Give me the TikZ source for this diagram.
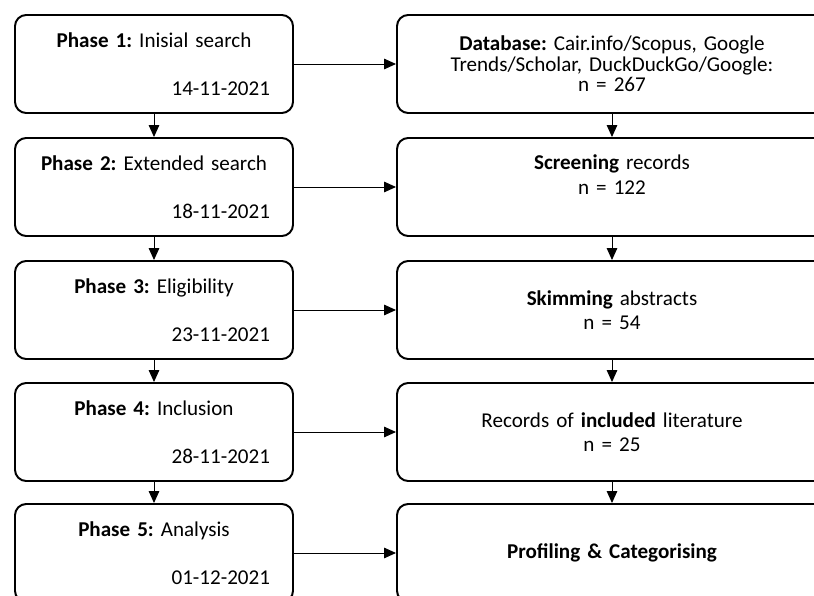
\documentclass[tikz,border=0pt]{standalone}
\usepackage{fontspec}
\setmainfont{Carlito}
\usetikzlibrary{positioning,arrows.meta}
\setlength{\parindent}{0pt}
\frenchspacing

\begin{document}
\begin{tikzpicture}[
    phase/.style={draw, line width=1.4pt, rounded corners=0.28cm, minimum width=6.95cm, minimum height=2.45cm, text width=5.8cm, inner sep=0pt, font=\fontsize{15}{17}\selectfont},
    result/.style={draw, line width=1.4pt, rounded corners=0.28cm, minimum width=10.75cm, minimum height=2.45cm, text width=10.2cm, align=center, inner sep=0pt, font=\fontsize{15}{17.5}\selectfont},
    flow/.style={-{Triangle[length=8.5pt,width=7.5pt]}, line width=0.7pt}]
    \useasboundingbox (0,0) rectangle (20.35,-14.9);
    % left column: phases
    \node[phase] (p1) at (3.85,-1.6) {{\centering\textbf{Phase 1:} Inisial search\par}\vspace{0.6cm}{\raggedleft 14-11-2021\par}};
    \node[phase] (p2) at (3.85,-4.675) {{\centering\textbf{Phase 2:} Extended search\par}\vspace{0.6cm}{\raggedleft 18-11-2021\par}};
    \node[phase] (p3) at (3.85,-7.75) {{\centering\textbf{Phase 3:} Eligibility\par}\vspace{0.6cm}{\raggedleft 23-11-2021\par}};
    \node[phase] (p4) at (3.85,-10.8) {{\centering\textbf{Phase 4:} Inclusion\par}\vspace{0.6cm}{\raggedleft 28-11-2021\par}};
    \node[phase] (p5) at (3.85,-13.825) {{\centering\textbf{Phase 5:} Analysis\par}\vspace{0.6cm}{\raggedleft 01-12-2021\par}};
    % right column: records
    \node[result, font=\fontsize{15}{14.5}\selectfont] (r1) at (15.3,-1.6) {\textbf{Database:} Cair.info/Scopus, Google\\Trends/Scholar, DuckDuckGo/Google:\\n = 267};
    \node[result] (r2) at (15.3,-4.675) {\textbf{Screening} records\\n = 122\\\mbox{}};
    \node[result] (r3) at (15.3,-7.75) {\textbf{Skimming} abstracts\\n = 54};
    \node[result] (r4) at (15.3,-10.8) {Records of \textbf{included} literature\\n = 25};
    \node[result] (r5) at (15.3,-13.825) {\textbf{Profiling \& Categorising}};
    % arrows
    \foreach \i/\j in {1/2,2/3,3/4,4/5} {
        \draw[flow] (p\i) -- (p\j);
        \draw[flow] (r\i) -- (r\j);
    }
    \foreach \i in {1,...,5}
        \draw[flow] (p\i) -- (r\i);
\end{tikzpicture}
\end{document}
